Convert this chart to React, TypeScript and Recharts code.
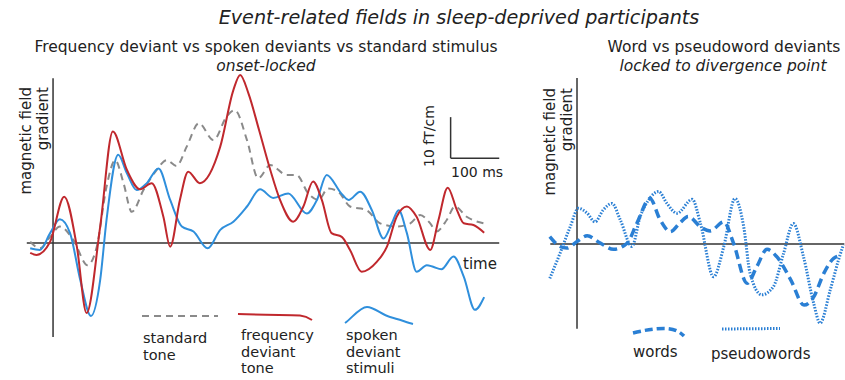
import { LineChart, Line, XAxis, YAxis, ReferenceLine } from "recharts";

// left panel: time in ms, field in fT/cm
const redTimes = [-47, -34, -6, 23, 49, 69, 97, 123, 152, 179, 203, 227, 241, 261, 278, 302, 344, 371, 385, 402, 424, 447, 467, 494, 515, 535, 553, 573, 594, 611, 635, 666, 687, 707, 728, 748, 776, 793, 812, 831, 845, 865, 887];
const redValues = [-2.4, -2.9, 0.3, 11.3, -0.9, -17.1, 4, 27.2, 17.8, 13.1, 14.6, 6.4, -0.9, 10.5, 17.4, 14.6, 23.5, 37.3, 41, 36.5, 27.5, 17.8, 10.5, 5.2, 8.9, 15, 10.5, 2.4, 1.5, -1.7, -7, -4.6, -0.9, 6.4, 8.9, 6.4, -1.7, 5.6, 13.5, 8, 4.8, 4.4, 2.5];

const blueTimes = [-47, -27, -6, 14, 35, 56, 78, 97, 110, 134, 152, 172, 193, 217, 241, 265, 289, 318, 344, 371, 399, 426, 453, 484, 522, 543, 563, 593, 608, 632, 656, 680, 697, 711, 728, 748, 769, 782, 799, 824, 845, 868, 887];
const blueValues = [-1.3, -1.7, 2.4, 5.8, 2.4, -9, -17.8, -9, 5.6, 21.5, 17, 12.9, 14.6, 18.2, 10.5, 4, 2.8, -1.3, 3.2, 5.2, 8.9, 13.1, 11, 12.1, 7.2, 10.5, 16.6, 12.1, 10.5, 12.5, 8, 1.1, 4.8, 8, 2.4, -7, -5.4, -5.8, -6.4, -3.3, -8.2, -16.3, -13.2];

const grayTimes = [-47, -27, -6, 14, 42, 71, 90, 110, 128, 145, 162, 186, 213, 234, 254, 275, 300, 330, 357, 374, 399, 422, 447, 481, 501, 525, 546, 566, 587, 611, 645, 673, 707, 735, 755, 776, 789, 810, 827, 851, 887];
const grayValues = [0.3, -1.3, 1.5, 4, 0.7, -5.4, -0.9, 13.7, 20.2, 14.6, 7.6, 12.9, 17.8, 20.2, 18.8, 23.5, 29.2, 25.1, 30.8, 32.4, 25.1, 15.8, 19, 16.6, 16.6, 12.1, 10.5, 13.3, 12.5, 8.9, 8, 4.8, 4, 4.8, 6.8, 4.8, 2.8, 5.6, 8.9, 6.4, 4.8];

// right panel: locked to divergence point
const wordTimes = [-56, -35, -21, 0, 21, 48, 75, 103, 123, 150, 171, 192, 212, 229, 254, 274, 302, 322, 350, 370, 391, 411, 440, 467, 487, 508, 528, 545];
const wordValues = [1.8, -0.6, -1, 0.6, 2, 0.2, -1.3, 0.2, 5, 11.1, 5.9, 3, 5.2, 6.7, 4.2, 3.2, 5.4, 0.2, -9.6, -5.5, -1.3, -3.1, -8.8, -14.9, -12.9, -7.1, -3.5, -2.7];

const pseudoTimes = [-56, -35, -14, 3, 21, 37, 54, 72, 89, 113, 130, 147, 168, 185, 206, 237, 254, 281, 302, 325, 343, 356, 380, 404, 425, 445, 466, 487, 500, 521, 538, 548];
const pseudoValues = [-8.4, -2.3, 4.2, 8.7, 7.5, 5.4, 8.3, 9.9, 5.9, -0.6, 6.7, 10.7, 12.8, 9.9, 7.5, 10.9, 5, -8, -0.6, 11.1, 4.2, -7.1, -12.4, -10.4, -2.3, 5, -3.1, -14.5, -19.3, -11.2, -3.9, -0.2];

const zip = (ts: number[], vs: number[]) => ts.map((t, i) => ({ t, v: vs[i] }));

const FONT = "'DejaVu Sans', Verdana, sans-serif";
const AXIS = "#333";
const RED = "#c0282d";
const BLUE = "#2f8fdc";
const GRAY = "#8a8a8a";
const BLUE2 = "#2a7fd4";

export default function App() {
  return (
    <div style={{ position: "absolute", left: 0, top: 0, width: 845, height: 380, background: "#fff", fontFamily: FONT }}>
      <div style={{ position: "absolute", left: 0, top: 0 }}>
        <LineChart width={845} height={380} margin={{ left: 26.8, right: 344.8, top: 70.8, bottom: 38.6 }}>
          <XAxis type="number" dataKey="t" domain={[-54, 920]} hide />
          <YAxis type="number" dataKey="v" domain={[-24, 42]} hide />
          <ReferenceLine segment={[{ x: -54, y: 0 }, { x: 918, y: 0 }]} stroke={AXIS} strokeWidth={1.5} />
          <ReferenceLine segment={[{ x: 0, y: 40.2 }, { x: 0, y: -22.9 }]} stroke={AXIS} strokeWidth={1.5} />
          <ReferenceLine segment={[{ x: 818, y: 30.7 }, { x: 818, y: 20.7 }]} stroke={AXIS} strokeWidth={1.5} />
          <ReferenceLine segment={[{ x: 818, y: 20.7 }, { x: 918, y: 20.7 }]} stroke={AXIS} strokeWidth={1.5} />
          <Line data={zip(grayTimes, grayValues)} dataKey="v" type="monotone" stroke={GRAY} strokeWidth={2} strokeDasharray="7 5" dot={false} isAnimationActive={false} />
          <Line data={zip(blueTimes, blueValues)} dataKey="v" type="monotone" stroke={BLUE} strokeWidth={2} dot={false} isAnimationActive={false} />
          <Line data={zip(redTimes, redValues)} dataKey="v" type="monotone" stroke={RED} strokeWidth={2} dot={false} isAnimationActive={false} />
        </LineChart>
      </div>
      <div style={{ position: "absolute", left: 0, top: 0 }}>
        <LineChart width={845} height={380} margin={{ left: 547.84, right: 0.66, top: 71.8, bottom: 37.6 }}>
          <XAxis type="number" dataKey="t" domain={[-60, 550]} hide />
          <YAxis type="number" dataKey="v" domain={[-24, 42]} hide />
          <ReferenceLine segment={[{ x: -55, y: 0 }, { x: 550, y: 0 }]} stroke={AXIS} strokeWidth={1.5} />
          <ReferenceLine segment={[{ x: 0, y: 40.5 }, { x: 0, y: -20.7 }]} stroke={AXIS} strokeWidth={1.5} />
          <Line data={zip(pseudoTimes, pseudoValues)} dataKey="v" type="monotone" stroke={BLUE2} strokeWidth={3} strokeDasharray="1.5 1.5" dot={false} isAnimationActive={false} />
          <Line data={zip(wordTimes, wordValues)} dataKey="v" type="monotone" stroke={BLUE2} strokeWidth={3.5} strokeDasharray="9 5" dot={false} isAnimationActive={false} />
        </LineChart>
      </div>
      <svg width={845} height={380} style={{ position: "absolute", left: 0, top: 0, pointerEvents: "none" }} fontFamily={FONT} fill="#222">
        <text x={459} y={24} fontSize={19.2} fontStyle="italic" textAnchor="middle">Event-related fields in sleep-deprived participants</text>
        <text x={266} y={52} fontSize={15.5} textAnchor="middle">Frequency deviant vs spoken deviants vs standard stimulus</text>
        <text x={266} y={71} fontSize={15.5} fontStyle="italic" textAnchor="middle">onset-locked</text>
        <text x={724} y={52} fontSize={15.5} textAnchor="middle">Word vs pseudoword deviants</text>
        <text x={723} y={71} fontSize={15.5} fontStyle="italic" textAnchor="middle">locked to divergence point</text>

        <text transform="translate(31,87) rotate(-90)" fontSize={15} textAnchor="end">magnetic field</text>
        <text transform="translate(48,87) rotate(-90)" fontSize={15} textAnchor="end">gradient</text>
        <text transform="translate(555,88) rotate(-90)" fontSize={15} textAnchor="end">magnetic field</text>
        <text transform="translate(572,88) rotate(-90)" fontSize={15} textAnchor="end">gradient</text>

        <text transform="translate(434,136) rotate(-90)" fontSize={14} textAnchor="middle">10 fT/cm</text>
        <text x={451} y={177} fontSize={14}>100 ms</text>
        <text x={463} y={269} fontSize={15}>time</text>

        {/* legend glyphs */}
        <path d="M142 316 L218 316" stroke={GRAY} strokeWidth={2} strokeDasharray="7 5" fill="none" />
        <path d="M238 314 C262 315 286 315 300 315.5 C306 316 309 318 312 320" stroke={RED} strokeWidth={2} fill="none" />
        <path d="M345 323 C352 318 360 307 367 307 C374 307 382 315 390 317 C398 319 406 322 413 324" stroke={BLUE} strokeWidth={2} fill="none" />
        <text fontSize={14.5}>
          <tspan x={143} y={343}>standard</tspan>
          <tspan x={143} y={360}>tone</tspan>
        </text>
        <text fontSize={14.5}>
          <tspan x={241} y={340}>frequency</tspan>
          <tspan x={241} y={356.5}>deviant</tspan>
          <tspan x={241} y={373}>tone</tspan>
        </text>
        <text fontSize={14.5}>
          <tspan x={346} y={340}>spoken</tspan>
          <tspan x={346} y={356.5}>deviant</tspan>
          <tspan x={346} y={373}>stimuli</tspan>
        </text>

        <path d="M633 333 C645 330 657 328 667 328.5 C675 329 680 332 684 336" stroke={BLUE2} strokeWidth={3.5} strokeDasharray="8 4" fill="none" />
        <path d="M722 329 L780 328.5" stroke={BLUE2} strokeWidth={3} strokeDasharray="1.5 1.5" fill="none" />
        <text x={633} y={357} fontSize={15}>words</text>
        <text x={711} y={359} fontSize={15}>pseudowords</text>
      </svg>
    </div>
  );
}
